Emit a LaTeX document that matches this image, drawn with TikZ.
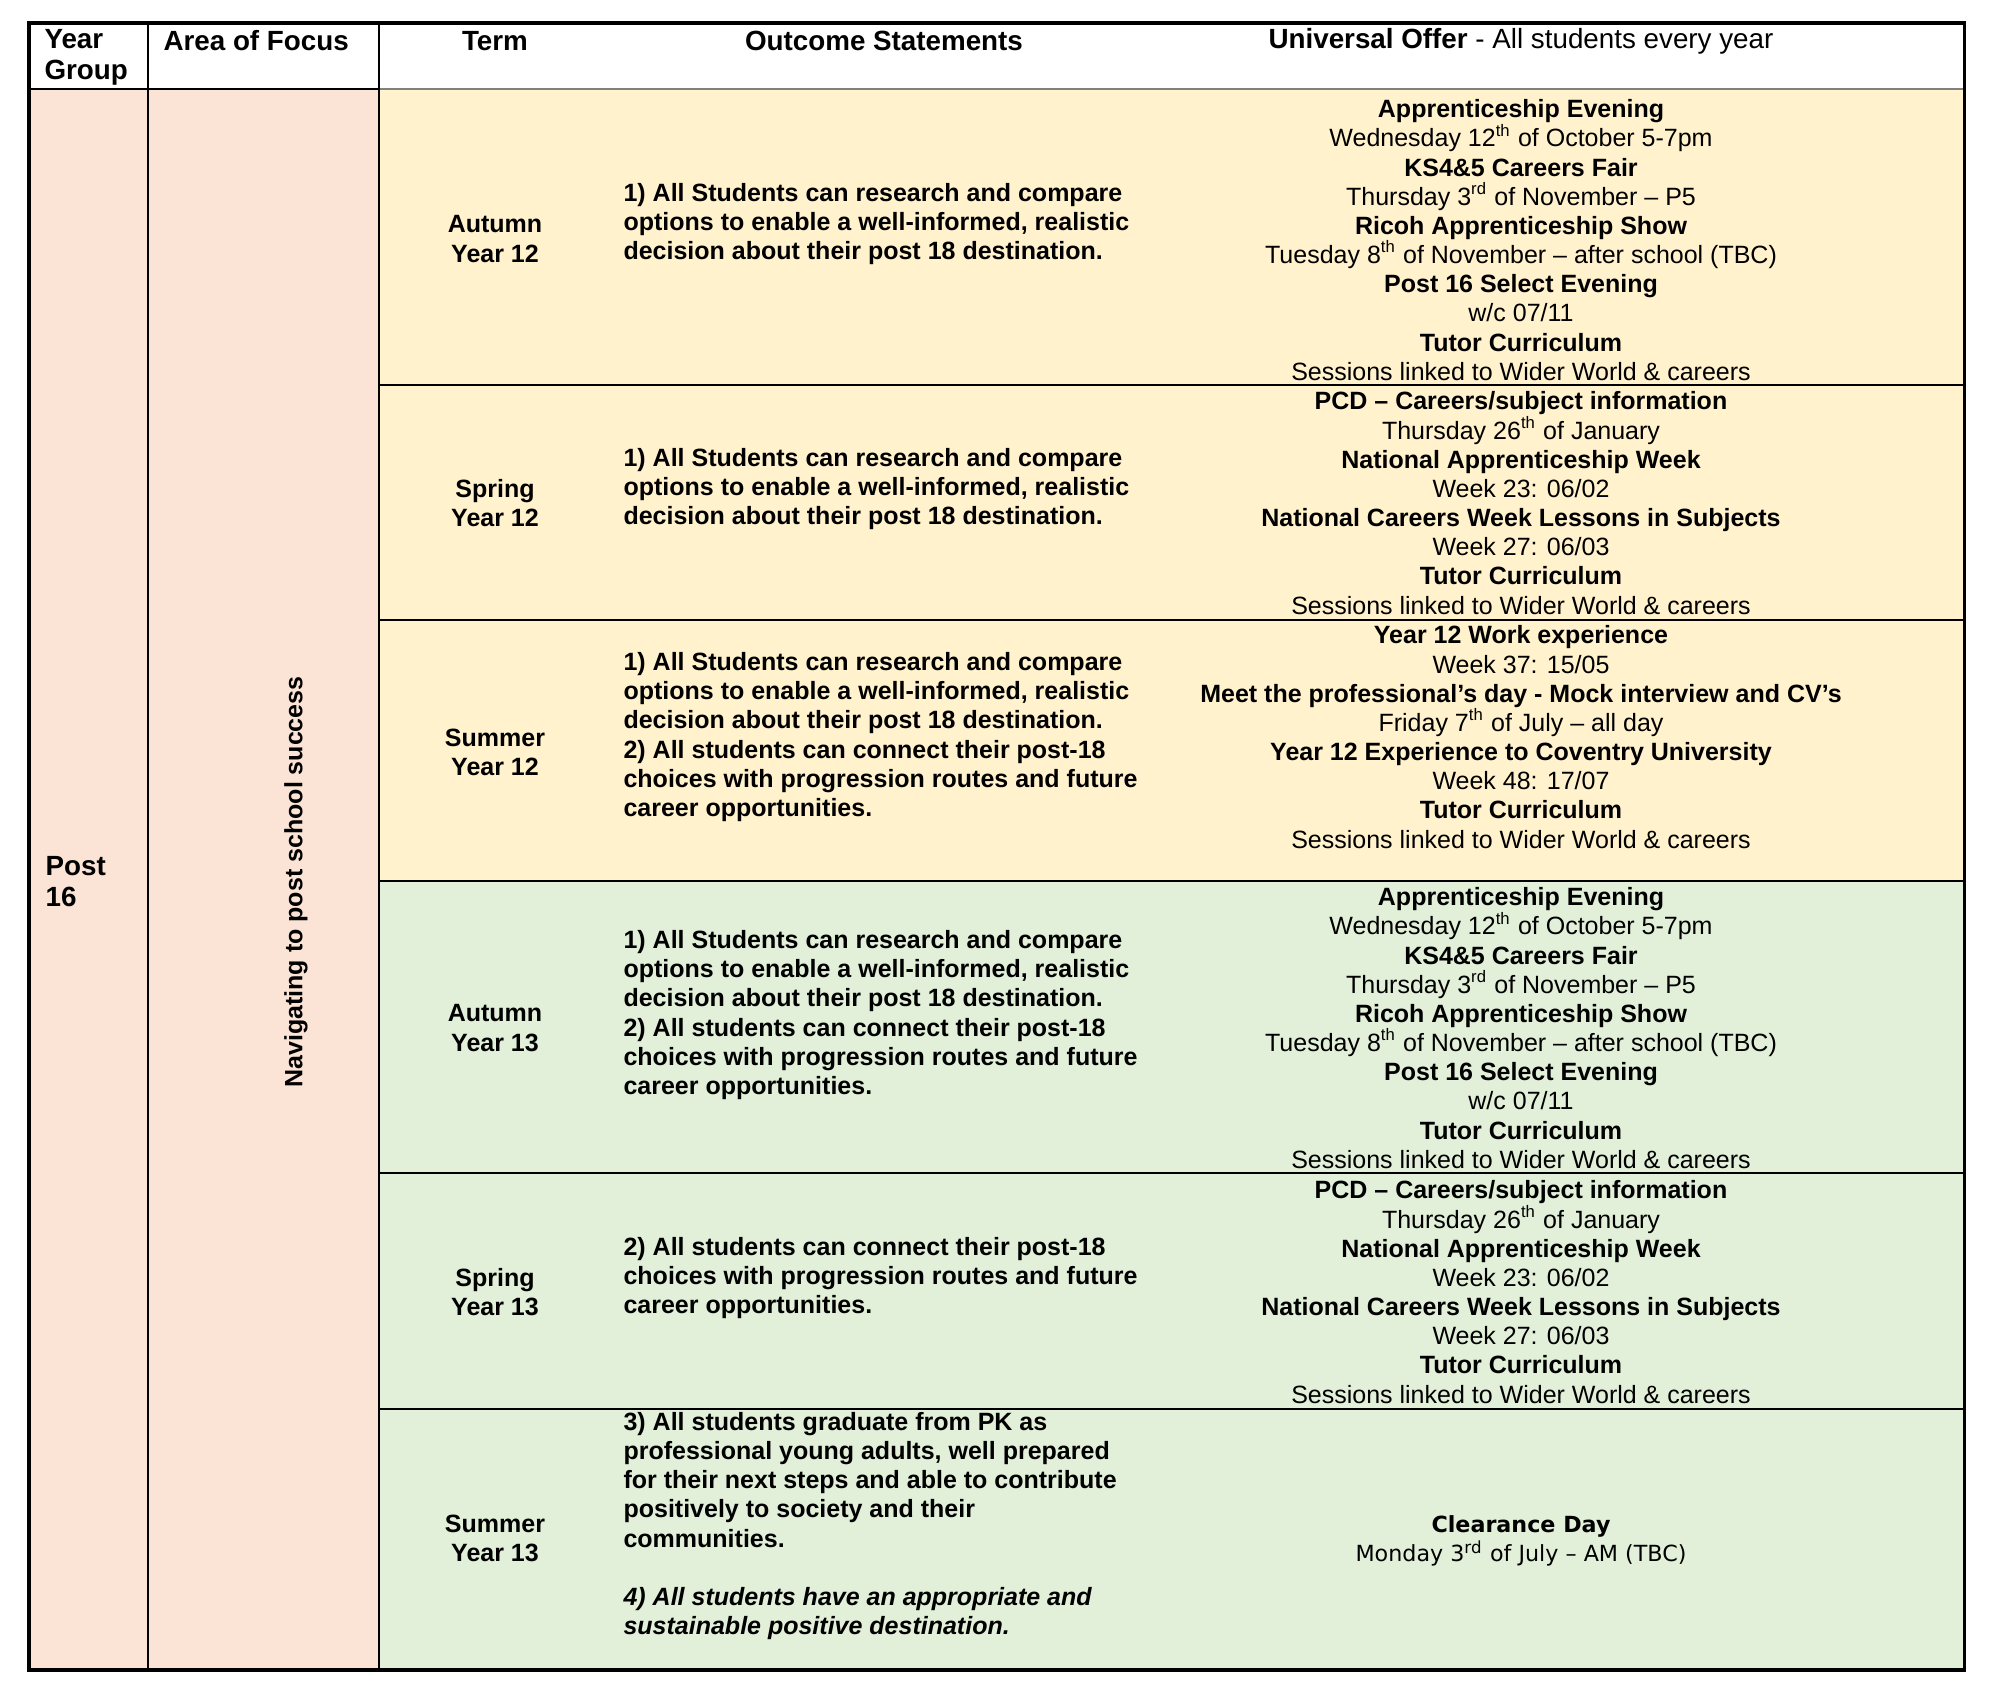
\documentclass[tikz,border=0pt]{standalone}
\usepackage{fontspec}
\setmainfont{Liberation Sans}
\newfontfamily\clrfont{DejaVu Sans}
\definecolor{peach}{HTML}{FBE4D5}
\definecolor{wheat}{HTML}{FFF2CC}
\definecolor{sage}{HTML}{E2EFD9}
\newcommand{\sups}[1]{\textsuperscript{#1}}
\begin{document}
\begin{tikzpicture}[x=0.36pt, y=-0.36pt,
   hdr/.style={font=\fontsize{10}{11.2}\selectfont\bfseries, inner sep=0pt},
   termcell/.style={align=center, font=\fontsize{9}{10.5}\selectfont\bfseries, inner sep=0pt},
   outcell/.style={align=left, anchor=west, font=\fontsize{9}{10.5}\selectfont\bfseries, inner sep=0pt},
   offer/.style={align=center, font=\fontsize{9}{10.5}\selectfont, inner sep=0pt},
   rowline/.style={line width=0.8pt}]

\useasboundingbox (0,0) rectangle (2000,1696);
\fill[white] (0,0) rectangle (2000,1696);
\fill[peach] (29,89) rectangle (379,1670);
\fill[wheat] (379,89) rectangle (1964,881);
\fill[sage] (379,881) rectangle (1964,1670);
\draw[gray, line width=0.4pt] (379,89) -- (1964,89);
\foreach \y in {385,620,881,1173,1409}
    \draw[rowline] (379,\y) -- (1964,\y);
\draw[line width=0.9pt] (29,89) -- (379,89);
\draw[line width=0.9pt] (148,23) -- (148,1670) (379,23) -- (379,1670);
\draw[line width=1.1pt] (29,23) rectangle (1964,1670);

\node[hdr, align=left, anchor=west] (yg) at (44,57) {Year\\Group};
\node[hdr, anchor=west] (aof) at (163,41) {Area of Focus};
\node[hdr] (termh) at (495,41) {Term};
\node[hdr] (outh) at (884,41) {Outcome Statements};
\node[hdr] (offh) at (1521,41) {Universal Offer \mdseries- All students every year};

\node[hdr, align=left, anchor=west] (post) at (45,882) {Post\\16};
\node[termcell, rotate=90] (nav) at (296,882) {Navigating to post school success};

\node[termcell] (t1) at (495,239) {Autumn\\Year 12};
\node[outcell] (o1) at (623,224) {1) All Students can research and compare\\
    options to enable a well-informed, realistic\\
    decision about their post 18 destination.};
\node[offer] (u1) at (1521,240) {\textbf{Apprenticeship Evening}\\
    Wednesday 12\sups{th} of October 5-7pm\\
    \textbf{KS4\&5 Careers Fair}\\
    Thursday 3\sups{rd} of November – P5\\
    \textbf{Ricoh Apprenticeship Show}\\
    Tuesday 8\sups{th} of November – after school (TBC)\\
    \textbf{Post 16 Select Evening}\\
    w/c 07/11\\
    \textbf{Tutor Curriculum}\\
    Sessions linked to Wider World \& careers};

\node[termcell] (t2) at (495,503) {Spring\\Year 12};
\node[outcell] (o2) at (623,489) {1) All Students can research and compare\\
    options to enable a well-informed, realistic\\
    decision about their post 18 destination.};
\node[offer] (u2) at (1521,503) {\textbf{PCD – Careers/subject information}\\
    Thursday 26\sups{th} of January\\
    \textbf{National Apprenticeship Week}\\
    Week 23: 06/02\\
    \textbf{National Careers Week Lessons in Subjects}\\
    Week 27: 06/03\\
    \textbf{Tutor Curriculum}\\
    Sessions linked to Wider World \& careers};

\node[termcell] (t3) at (495,752) {Summer\\Year 12};
\node[outcell] (o3) at (623,737) {1) All Students can research and compare\\
    options to enable a well-informed, realistic\\
    decision about their post 18 destination.\\
    2) All students can connect their post-18\\
    choices with progression routes and future\\
    career opportunities.};
\node[offer] (u3) at (1521,737) {\textbf{Year 12 Work experience}\\
    Week 37: 15/05\\
    \textbf{Meet the professional’s day - Mock interview and CV’s}\\
    Friday 7\sups{th} of July – all day\\
    \textbf{Year 12 Experience to Coventry University}\\
    Week 48: 17/07\\
    \textbf{Tutor Curriculum}\\
    Sessions linked to Wider World \& careers};

\node[termcell] (t4) at (495,1028) {Autumn\\Year 13};
\node[outcell] (o4) at (623,1015) {1) All Students can research and compare\\
    options to enable a well-informed, realistic\\
    decision about their post 18 destination.\\
    2) All students can connect their post-18\\
    choices with progression routes and future\\
    career opportunities.};
\node[offer] (u4) at (1521,1028) {\textbf{Apprenticeship Evening}\\
    Wednesday 12\sups{th} of October 5-7pm\\
    \textbf{KS4\&5 Careers Fair}\\
    Thursday 3\sups{rd} of November – P5\\
    \textbf{Ricoh Apprenticeship Show}\\
    Tuesday 8\sups{th} of November – after school (TBC)\\
    \textbf{Post 16 Select Evening}\\
    w/c 07/11\\
    \textbf{Tutor Curriculum}\\
    Sessions linked to Wider World \& careers};

\node[termcell] (t5) at (495,1292) {Spring\\Year 13};
\node[outcell] (o5) at (623,1278) {2) All students can connect their post-18\\
    choices with progression routes and future\\
    career opportunities.};
\node[offer] (u5) at (1521,1292) {\textbf{PCD – Careers/subject information}\\
    Thursday 26\sups{th} of January\\
    \textbf{National Apprenticeship Week}\\
    Week 23: 06/02\\
    \textbf{National Careers Week Lessons in Subjects}\\
    Week 27: 06/03\\
    \textbf{Tutor Curriculum}\\
    Sessions linked to Wider World \& careers};

\node[termcell] (t6) at (495,1538) {Summer\\Year 13};
\node[outcell] (o6) at (623,1526) {3) All students graduate from PK as\\
    professional young adults, well prepared\\
    for their next steps and able to contribute\\
    positively to society and their\\
    communities.\\[10.5pt]
    \textit{4) All students have an appropriate and}\\
    \textit{sustainable positive destination.}};
\node[offer, font=\fontsize{8}{10.5}\selectfont\clrfont] (u6) at (1521,1541) {\textbf{Clearance Day}\\
    Monday 3\sups{rd} of July – AM (TBC)};

\end{tikzpicture}
\end{document}
